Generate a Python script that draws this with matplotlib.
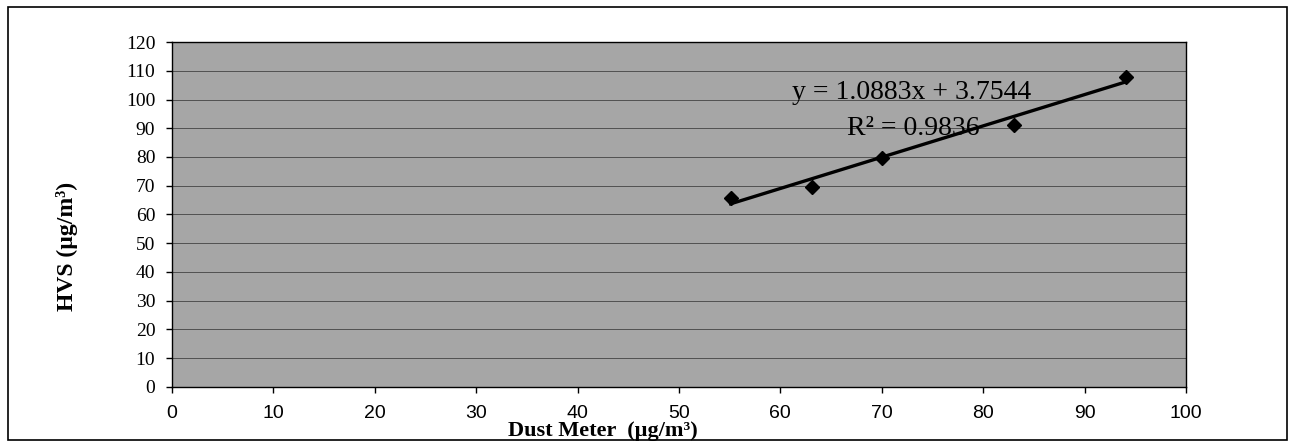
import numpy as np
import matplotlib
matplotlib.use('Agg')
import matplotlib.pyplot as plt
from matplotlib.patches import Rectangle

# data
dust_meter = [55.1, 63.1, 70.0, 83.0, 94.1]
hvs = [65.8, 69.4, 79.6, 91.2, 107.8]
slope = 1.0883
intercept = 3.7544
r_squared = 0.9836

x_ticks = [0, 10, 20, 30, 40, 50, 60, 70, 80, 90, 100]
y_ticks = [0, 10, 20, 30, 40, 50, 60, 70, 80, 90, 100, 110, 120]

fig = plt.figure(figsize=(12.92, 4.44), dpi=100)
ax = fig.add_axes([0.1331, 0.1284, 0.7848, 0.777])

# frame around the whole figure
fig.patches.append(Rectangle((8 / 1292, 4 / 444), 1279 / 1292, 433 / 444,
                             transform=fig.transFigure, fill=False,
                             edgecolor='black', linewidth=1.2))

ax.set_facecolor('#a6a6a6')
ax.set_xlim(0, 100)
ax.set_ylim(0, 120)
ax.set_xticks(x_ticks)
ax.set_yticks(y_ticks)
ax.yaxis.grid(True, color='#ececec', linewidth=1.6)
ax.yaxis.grid(True, color='#303030', linewidth=0.5)
ax.set_axisbelow(True)

ax.tick_params(axis='x', direction='out', length=4, width=1, pad=9, labelsize=14)
ax.tick_params(axis='y', direction='out', length=4, width=1, pad=8, labelsize=14)
for lab in ax.get_xticklabels():
    lab.set_fontfamily('Liberation Sans')
for lab in ax.get_yticklabels():
    lab.set_fontfamily('Liberation Serif')

for s in ax.spines.values():
    s.set_color('black')
    s.set_linewidth(1.0)

# trend line
xs = np.array([dust_meter[0], dust_meter[-1]])
ax.plot(xs, slope * xs + intercept, color='black', linewidth=2.4, zorder=3)
ax.plot(dust_meter, hvs, linestyle='none', marker='D', markersize=7,
        color='black', zorder=4)

ax.text(72.9, 102.3, f'y = {slope}x + {intercept}', ha='center', va='center',
        fontsize=20, family='Liberation Serif')
ax.text(73.1, 89.8, f'R² = {r_squared}', ha='center', va='center',
        fontsize=20, family='Liberation Serif')

fig.text(67 / 1292, 1 - 246 / 444, 'HVS (µg/m³)', rotation=90, ha='center',
         va='center', fontsize=17, fontweight='bold', family='Liberation Serif')
fig.text(603 / 1292, 1 - 431 / 444, 'Dust Meter  (µg/m³)', ha='center',
         va='center', fontsize=16, fontweight='bold', family='Liberation Serif')

fig.savefig('out.png', dpi=100)
